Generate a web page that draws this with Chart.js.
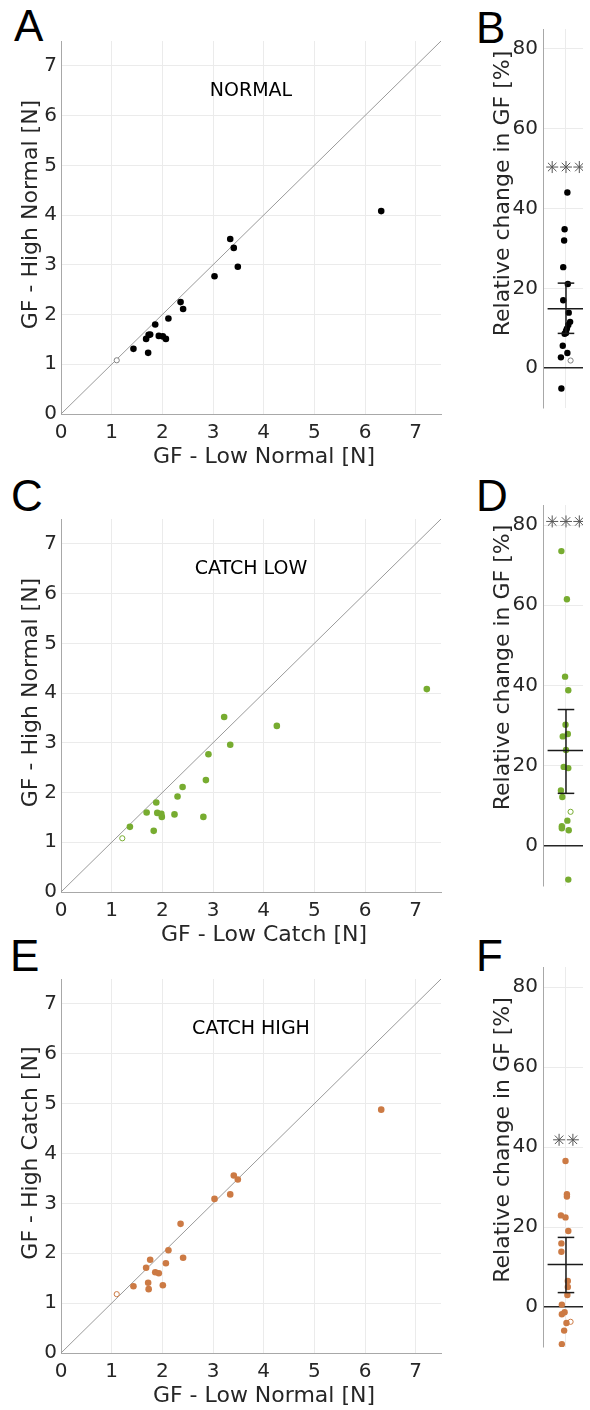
<!DOCTYPE html>
<html>
<head>
<meta charset="utf-8">
<script src="https://cdn.jsdelivr.net/npm/chart.js@4.4.1/dist/chart.umd.min.js"></script>
<style>
  html, body { margin: 0; padding: 0; background: #fff; overflow: hidden; }
  body { width: 590px; height: 1410px; position: relative; }
  canvas { position: absolute; }
  .tag { position: absolute; font: 44px "Liberation Sans", Arial, sans-serif; line-height: 1; color: #000; }
</style>
</head>
<body>
<div class="tag" style="left:14px;top:4px">A</div>
<div class="tag" style="left:476px;top:6px">B</div>
<div class="tag" style="left:11px;top:474px">C</div>
<div class="tag" style="left:476px;top:474px">D</div>
<div class="tag" style="left:10px;top:934px">E</div>
<div class="tag" style="left:476px;top:934px">F</div>

<canvas id="cA"></canvas>
<canvas id="cB"></canvas>
<canvas id="cC"></canvas>
<canvas id="cD"></canvas>
<canvas id="cE"></canvas>
<canvas id="cF"></canvas>

<script>
// Grip force per subject [N] (filled dots), plus the one subject drawn open
const lowNormal  = [1.43, 1.72, 1.68, 1.73, 1.76, 1.86, 1.93, 2.01, 2.07, 2.12, 2.36, 2.41, 3.03, 3.34, 3.41, 3.49, 6.32];
const highNormal = [1.31, 1.23, 1.51, 1.59, 1.60, 1.80, 1.57, 1.56, 1.51, 1.92, 2.25, 2.11, 2.77, 3.52, 3.34, 2.96, 4.08];
const lowCatch   = [1.36, 1.83, 1.99, 1.90, 1.69, 1.88, 1.98, 2.24, 2.81, 2.30, 2.86, 2.40, 2.91, 3.22, 4.26, 3.34, 7.22];
const highCatch  = [1.34, 1.41, 1.71, 1.28, 1.87, 1.62, 1.60, 1.36, 1.80, 2.06, 2.59, 1.91, 3.09, 3.18, 3.56, 3.48, 4.88];

const lowNormalOpen = 1.10, highNormalOpen = 1.08, lowCatchOpen = 1.21, highCatchOpen = 1.18;

// Relative change in GF [%] and horizontal jitter of each dot
const relNormal    = [44.0, 34.8, 32.0, 25.3, 21.1, 17.0, 13.9, 11.6, 10.8, 9.9, 9.3, 8.8, 8.6, 5.6, 3.8, 2.7, -5.1];
const jitNormal    = [1.03, 0.97, 0.96, 0.94, 1.04, 0.94, 1.06, 1.09, 1.05, 1.02, 1.00, 1.00, 0.97, 0.93, 1.03, 0.89, 0.90];
const relCatchLow  = [73.5, 61.5, 42.2, 38.8, 30.2, 27.9, 27.3, 23.9, 19.7, 19.4, 13.8, 12.2, 6.3, 4.9, 4.4, 3.9, -8.4];
const jitCatchLow  = [0.90, 1.02, 0.98, 1.05, 0.99, 1.04, 0.93, 1.00, 0.95, 1.05, 0.89, 0.92, 1.03, 0.91, 0.91, 1.06, 1.05];
const relCatchHigh = [36.5, 28.2, 27.6, 22.9, 22.4, 19.0, 15.9, 13.8, 6.5, 5.0, 3.0, 0.6, -1.3, -1.8, -4.0, -5.9, -9.3];
const jitCatchHigh = [0.99, 1.02, 1.02, 0.89, 0.99, 1.05, 0.90, 0.90, 1.04, 1.04, 1.03, 0.91, 0.97, 0.91, 1.01, 0.96, 0.91];

const relOpen = [1.9, 8.5, -3.7];
const relMean = [14.9, 23.8, 10.6];
const ciLow   = [8.7, 13.1, 3.6];
const ciHigh  = [21.3, 34.0, 17.4];
const sigY    = [50.4, 80.9, 41.8];
const sigX3   = [0.70, 1.00, 1.29];
const sigX2   = [0.85, 1.15];

const forceTicks = [0, 1, 2, 3, 4, 5, 6, 7];
const pctTicks   = [0, 20, 40, 60, 80];

const FONT = '"DejaVu Sans", Verdana, sans-serif';
const TXT = '#262626';
const GRID = '#ebebeb';
const AXIS = '#a8a8a8';
const BLACK = '#000000', GREEN = '#77ac30', ORANGE = '#cc7a44';

Chart.defaults.font.family = FONT;
Chart.defaults.animation = false;

// axis titles and condition label, drawn relative to the chart area
const panelText = {
  id: 'panelText',
  afterDraw(chart, args, o) {
    const { ctx, chartArea: a, scales } = chart;
    ctx.save();
    ctx.textAlign = 'center';
    ctx.textBaseline = 'middle';
    ctx.fillStyle = TXT;
    ctx.font = '22px ' + FONT;
    if (o.xTitle) {
      ctx.fillText(o.xTitle, (a.left + a.right) / 2 + o.xShift, a.bottom + o.xDrop);
    }
    if (o.yTitle) {
      ctx.save();
      ctx.translate(a.left - o.yGap, (a.top + a.bottom) / 2 + o.yShift);
      ctx.rotate(-Math.PI / 2);
      ctx.fillText(o.yTitle, 0, 0);
      ctx.restore();
    }
    if (o.label) {
      ctx.fillStyle = '#000';
      ctx.font = '19px ' + FONT;
      ctx.fillText(o.label, scales.x.getPixelForValue(3.75), scales.y.getPixelForValue(6.5));
    }
    ctx.restore();
  }
};

function place(id, left, top, w, h) {
  const c = document.getElementById(id);
  c.width = w; c.height = h;
  c.style.left = left + 'px'; c.style.top = top + 'px';
  c.style.width = w + 'px'; c.style.height = h + 'px';
  return c;
}

function tickFont(size) {
  return { color: TXT, font: { family: FONT, size: size } };
}

function scatterPanel(id, plotTop, plotH, xs, ys, xOpen, yOpen, color, openColor, xTitle, yTitle, label) {
  const c = place(id, 0, plotTop - 10, 450, plotH + 70);
  new Chart(c, {
    type: 'scatter',
    data: {
      datasets: [
        { data: xs.map((x, i) => ({ x: x, y: ys[i] })), backgroundColor: color, borderWidth: 0, pointRadius: 3.3, order: 0 },
        { data: [{ x: xOpen, y: yOpen }], backgroundColor: '#fff', borderColor: openColor, borderWidth: 1, pointRadius: 2.6, order: 1 },
        { data: [{ x: 0, y: 0 }, { x: 7.5, y: 7.5 }], showLine: true, borderColor: '#9a9a9a', borderWidth: 1, pointRadius: 0, order: 2 }
      ]
    },
    options: {
      responsive: false,
      devicePixelRatio: 1,
      layout: { padding: { top: 10, right: 9, left: 0, bottom: 0 } },
      plugins: {
        legend: { display: false },
        tooltip: { enabled: false },
        panelText: { xTitle: xTitle, yTitle: yTitle, label: label, xShift: 13, xDrop: 43.5, yGap: 29.3, yShift: -13 }
      },
      scales: {
        x: {
          type: 'linear', min: 0, max: 7.5,
          afterBuildTicks: s => { s.ticks = forceTicks.map(v => ({ value: v })); },
          afterFit: s => { s.height = 60; },
          grid: { color: GRID, drawTicks: false },
          border: { color: AXIS },
          ticks: Object.assign({ padding: 7 }, tickFont(20))
        },
        y: {
          type: 'linear', min: 0, max: 7.5,
          afterBuildTicks: s => { s.ticks = forceTicks.map(v => ({ value: v })); },
          afterFit: s => { s.width = 61; },
          grid: { color: GRID, drawTicks: false },
          border: { color: AXIS },
          ticks: Object.assign({ padding: 4 }, tickFont(20))
        }
      }
    },
    plugins: [panelText]
  });
}

function changePanel(id, plotTop, plotH, k, vals, jit, color, openColor, sigX, yShift) {
  const c = place(id, 470, plotTop - 10, 120, plotH + 20);
  const line = (pts, w) => ({ data: pts, showLine: true, borderColor: '#1a1a1a', borderWidth: w, pointRadius: 0, order: 0 });
  new Chart(c, {
    type: 'scatter',
    data: {
      datasets: [
        line([{ x: 0.6, y: relMean[k] }, { x: 1.4, y: relMean[k] }], 1.5),
        line([{ x: 1, y: ciLow[k] }, { x: 1, y: ciHigh[k] }], 1.5),
        line([{ x: 0.82, y: ciLow[k] }, { x: 1.18, y: ciLow[k] }], 1.5),
        line([{ x: 0.82, y: ciHigh[k] }, { x: 1.18, y: ciHigh[k] }], 1.5),
        { data: sigX.map(x => ({ x: x, y: sigY[k] })), pointStyle: 'star', pointRadius: 6, borderColor: '#555', borderWidth: 1, backgroundColor: '#555', order: 1 },
        { data: vals.map((v, i) => ({ x: jit[i], y: v })), backgroundColor: color, borderWidth: 0, pointRadius: 3.2, order: 2 },
        { data: [{ x: 1.10, y: relOpen[k] }], backgroundColor: '#fff', borderColor: openColor, borderWidth: 1, pointRadius: 2.6, order: 3 }
      ]
    },
    options: {
      responsive: false,
      devicePixelRatio: 1,
      layout: { padding: { top: 10, right: 0, left: 0, bottom: 0 } },
      plugins: {
        legend: { display: false },
        tooltip: { enabled: false },
        panelText: { yTitle: 'Relative change in GF [%]', yGap: 40, yShift: yShift }
      },
      scales: {
        x: {
          type: 'linear', min: 0.5, max: 1.37,
          afterBuildTicks: s => { s.ticks = [{ value: 1 }]; },
          afterFit: s => { s.height = 10; },
          grid: { color: GRID, drawTicks: false },
          border: { display: false },
          ticks: { display: false }
        },
        y: {
          type: 'linear', min: -10, max: 85,
          afterBuildTicks: s => { s.ticks = pctTicks.map(v => ({ value: v })); },
          afterFit: s => { s.width = 73; },
          grid: {
            drawTicks: false,
            color: ctx => ctx.tick && ctx.tick.value === 0 ? '#262626' : GRID,
            lineWidth: ctx => ctx.tick && ctx.tick.value === 0 ? 1.5 : 1
          },
          border: { color: AXIS },
          ticks: Object.assign({ padding: 5 }, tickFont(20))
        }
      }
    },
    plugins: [panelText]
  });
}

scatterPanel('cA', 35, 379, lowNormal, highNormal, lowNormalOpen, highNormalOpen, BLACK, '#808080',
  'GF - Low Normal [N]', 'GF - High Normal [N]', 'NORMAL');
scatterPanel('cC', 513, 379, lowCatch, highNormal, lowCatchOpen, highNormalOpen, GREEN, GREEN,
  'GF - Low Catch [N]', 'GF - High Normal [N]', 'CATCH LOW');
scatterPanel('cE', 973, 380, lowNormal, highCatch, lowNormalOpen, highCatchOpen, ORANGE, ORANGE,
  'GF - Low Normal [N]', 'GF - High Catch [N]', 'CATCH HIGH');

changePanel('cB', 22, 393, 0, relNormal, jitNormal, BLACK, '#808080', sigX3, -25);
changePanel('cD', 498, 395, 1, relCatchLow, jitCatchLow, GREEN, GREEN, sigX3, -28);
changePanel('cF', 960, 394, 2, relCatchHigh, jitCatchHigh, ORANGE, ORANGE, sigX2, -17);
</script>
</body>
</html>
